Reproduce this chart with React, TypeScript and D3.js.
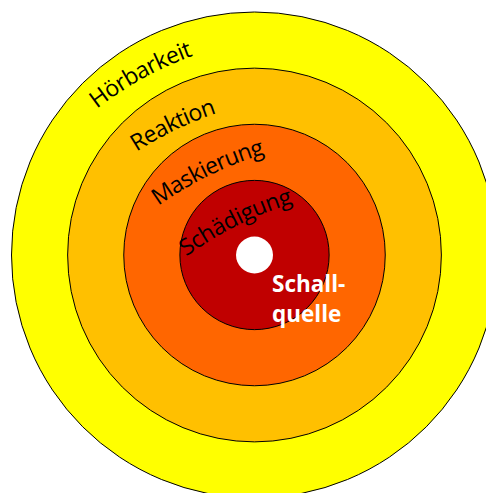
import React from 'react';
import * as d3 from 'd3';

// zones from outside to inside, level = distance step from the source
const zones = ['Hörbarkeit', 'Reaktion', 'Maskierung', 'Schädigung'];
const zoneLevels = [4, 3, 2, 1];
const zoneColors = ['#ffff00', '#ffc000', '#ff6600', '#c00000'];
const sourceLines = ['Schall-', 'quelle'];

// baseline of each (gently arched) label: start/end angle in deg, clockwise from top, and radius
const labelArcs = [
  { a0: -47.2, r0: 215, a1: -17.1, r1: 208.5 },
  { a0: -48.8, r0: 156.7, a1: -14.9, r1: 146.7 },
  { a0: -63, r0: 108, a1: 5.9, r1: 101.5 },
  { a0: -91.4, r0: 68.2, a1: 36.7, r1: 64.5 },
];
const archRadius = 350;

const width = 486;
const height = 493;
const cx = 254.5;
const cy = 255;

const radius = d3.scaleLinear().domain([0, 4]).range([18.5, 243]);

const polar = (deg: number, r: number): [number, number] => {
  const t = (deg * Math.PI) / 180;
  return [cx + r * Math.sin(t), cy - r * Math.cos(t)];
};

const font = "'Open Sans', 'Noto Sans', sans-serif";

const App: React.FC = () => {
  const arcs = labelArcs.map(({ a0, r0, a1, r1 }) => {
    const [x0, y0] = polar(a0, r0);
    const [x1, y1] = polar(a1, r1);
    const R = archRadius;
    const chord = Math.hypot(x1 - x0, y1 - y0);
    const len = R * 2 * Math.asin(Math.min(1, chord / (2 * R)));
    return { d: `M${x0},${y0} A${R},${R} 0 0 1 ${x1},${y1}`, len };
  });

  return (
    <svg
      width={width}
      height={height}
      style={{ position: 'absolute', left: 0, top: 0, background: '#fff' }}
    >
      <defs>
        {arcs.map((a, i) => (
          <path key={i} id={`zone-arc-${i}`} d={a.d} fill="none" />
        ))}
      </defs>
      {zones.map((z, i) => (
        <circle
          key={z}
          cx={cx}
          cy={cy}
          r={radius(zoneLevels[i])}
          fill={zoneColors[i]}
          stroke="#000"
          strokeWidth={1}
        />
      ))}
      <circle cx={cx} cy={cy} r={radius(0)} fill="#fff" />
      {zones.map((z, i) => (
        <text key={z} fontFamily={font} fontSize={23} fill="#000">
          <textPath
            href={`#zone-arc-${i}`}
            textLength={arcs[i].len}
            lengthAdjust="spacing"
          >
            {z}
          </textPath>
        </text>
      ))}
      <text fontFamily={font} fontWeight="bold" fontSize={22.5} fill="#fff">
        {sourceLines.map((s, i) => (
          <tspan key={s} x={272} y={291.5 + i * 30}>
            {s}
          </tspan>
        ))}
      </text>
    </svg>
  );
};

export default App;
